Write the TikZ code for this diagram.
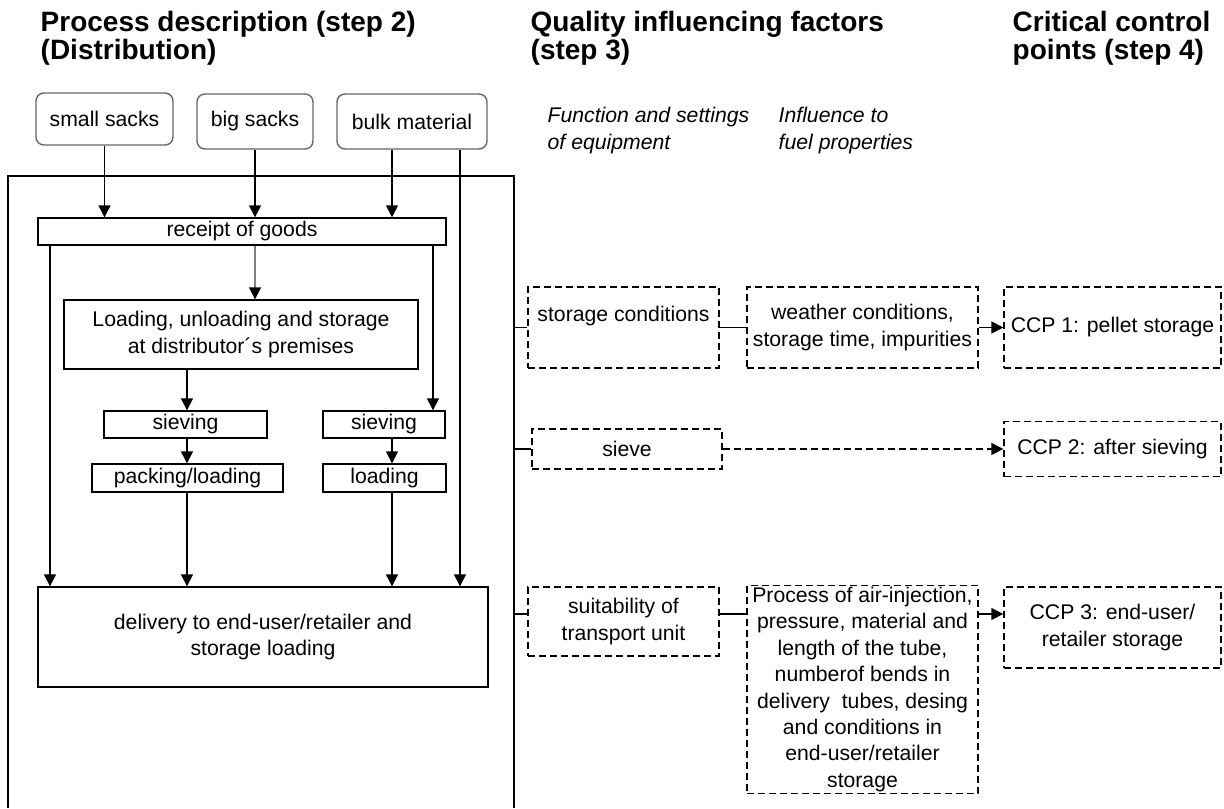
\documentclass[tikz,border=0pt]{standalone}
\usepackage{fontspec}
\setmainfont{Liberation Sans}
\usetikzlibrary{positioning, arrows.meta}

\begin{document}
\begin{tikzpicture}[x=0.5pt, y=-0.5pt, line width=0.7pt,
  >={Triangle[length=6pt, width=6pt]},
  every node/.style={font=\fontsize{10.6}{13.2}\selectfont, inner sep=1pt, align=center},
  src/.style={draw=black!60, rounded corners=4pt},
  proc/.style={draw},
  qual/.style={draw, dash pattern=on 3.5pt off 2pt},
  head/.style={anchor=north west, align=left, inner sep=0pt, font=\fontsize{14}{14}\selectfont\bfseries},
  sub/.style={anchor=north west, align=left, inner sep=0pt, font=\fontsize{10.6}{13.5}\selectfont\itshape}]
\useasboundingbox (0,0) rectangle (1224,808);
% headings %
\node[head] (t2) at (40,11) {Process description (step 2)\\(Distribution)};
\node[head] (t3) at (530,11) {Quality influencing factors\\(step 3)};
\node[head] (t4) at (1012,11) {Critical control\\points (step 4)};
\node[sub] (h1) at (547,106) {Function and settings\\of equipment};
\node[sub] (h2) at (778,106) {Influence to\\fuel properties};
% frame %
\coordinate (fbl) at (8,808);
\coordinate (ftr) at (514,176);
\coordinate (fbr) at (514,808);
\draw (fbl) |- (ftr) -- (fbr);
% nodes %
\node[src, minimum width=68.5pt, minimum height=26pt] (small) at (104.5,119) {small sacks};
\node[src, minimum width=58pt, minimum height=27.5pt] (big) at (255,121.5) {big sacks};
\node[src, minimum width=75pt, minimum height=27.5pt] (bulk) at (412,121.5) {bulk material};
\node[proc, minimum width=204pt, minimum height=13.5pt] (receipt) at (242,231.5) {receipt of goods};
\node[proc, minimum width=177pt, minimum height=34.5pt] (loadst) at (241,334.5) {Loading, unloading and storage\\at distributor´s premises};
\node[proc, minimum width=81.5pt, minimum height=13.5pt] (sieve1) at (185.5,424.5) {sieving};
\node[proc, minimum width=61pt, minimum height=13.5pt] (sieve2) at (384,424.5) {sieving};
\node[proc, minimum width=95.5pt, minimum height=14pt] (pack) at (187.5,478) {packing/loading};
\node[proc, minimum width=61.5pt, minimum height=14pt] (load) at (384.5,478) {loading};
\node[proc, minimum width=225pt, minimum height=50pt] (deliv) at (263,637) {delivery to end-user/retailer and\\storage loading};
\node[qual, minimum width=95.5pt, minimum height=40.5pt] (storage) at (623.5,327.5) {storage conditions\\~};
\node[qual, minimum width=115.5pt, minimum height=40.5pt] (weather) at (862.5,327.5) {weather conditions,\\storage time, impurities};
\node[qual, minimum width=108.5pt, minimum height=40.5pt] (ccp1) at (1112.5,327.5) {CCP 1: pellet storage};
\node[qual, minimum width=95pt, minimum height=20pt] (sieve) at (627,449) {sieve};
\node[qual, minimum width=108.5pt, minimum height=27.5pt] (ccp2) at (1112.5,449) {CCP 2: after sieving};
\node[qual, minimum width=95.5pt, minimum height=34.5pt] (suit) at (623.5,621.5) {suitability of\\transport unit};
\node[qual, minimum width=115.5pt, minimum height=102.5pt] (air) at (862.5,689.5) {Process of air-injection,\\pressure, material and\\length of the tube,\\numberof bends in\\delivery\ \ tubes, desing\\and conditions in\\end-user/retailer\\storage};
\node[qual, minimum width=108.5pt, minimum height=40.5pt] (ccp3) at (1112.5,627.5) {CCP 3: end-user/\\retailer storage};
% columns %
\coordinate (colL) at (50,0);
\coordinate (colB) at (255,0);
\coordinate (colP) at (187,0);
\coordinate (colK) at (392,0);
\coordinate (colR) at (433,0);
\coordinate (colX) at (460,0);
\coordinate (row3) at (0,614);
% edges %
\draw[->] (small.south) -- (small.south |- receipt.north);
\draw[->] (big.south) -- (big.south |- receipt.north);
\draw[->] (bulk.south -| colK) -- (receipt.north -| colK);
\draw[->] (bulk.south -| colX) -- (deliv.north -| colX);
\draw[->] (receipt.south -| colL) -- (deliv.north -| colL);
\draw[black!50, -{Triangle[length=6pt, width=6pt, color=black]}] (receipt.south -| colB) -- (loadst.north -| colB);
\draw[->] (receipt.south -| colR) -- (sieve2.north -| colR);
\draw[->] (loadst.south -| colP) -- (sieve1.north -| colP);
\draw[->] (sieve1.south -| colP) -- (pack.north -| colP);
\draw[->] (pack.south -| colP) -- (deliv.north -| colP);
\draw[->] (sieve2.south -| colK) -- (load.north -| colK);
\draw[->] (load.south -| colK) -- (deliv.north -| colK);
\draw (storage.west) -- (storage.west -| ftr);
\draw (sieve.west) -- (sieve.west -| ftr);
\draw (suit.west |- row3) -- (row3 -| ftr);
\draw (storage.east) -- (weather.west);
\draw[->] (weather.east) -- (ccp1.west);
\draw[->, dash pattern=on 3.5pt off 2pt] (sieve.east) -- (ccp2.west);
\draw (suit.east |- row3) -- (air.west |- row3);
\draw[->] (air.east |- row3) -- (ccp3.west |- row3);
\end{tikzpicture}
\end{document}
